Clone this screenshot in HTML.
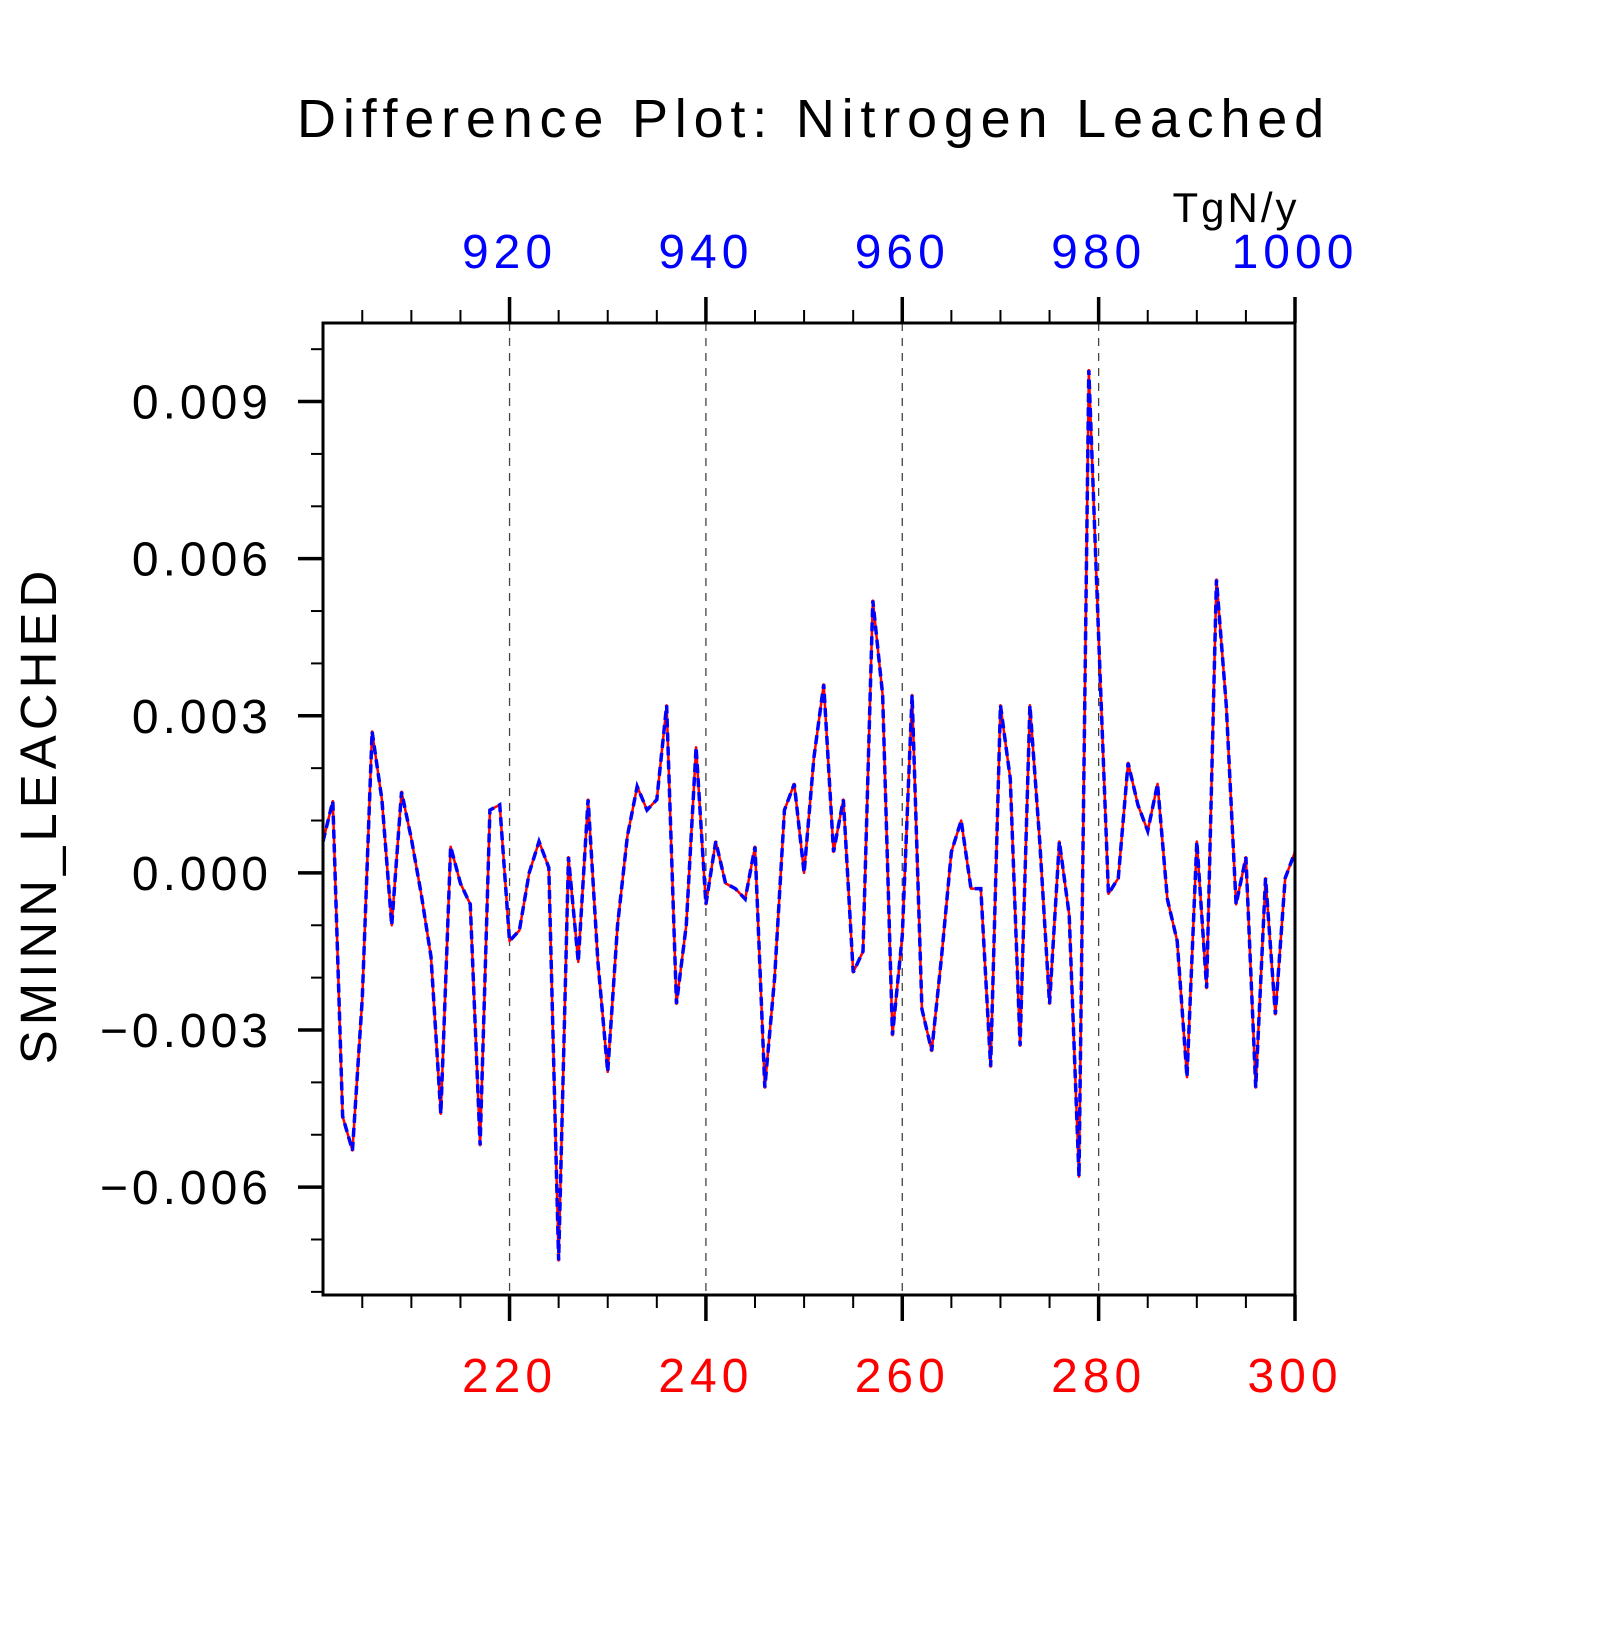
<!DOCTYPE html>
<html><head><meta charset="utf-8"><style>
html,body{margin:0;padding:0;background:#fff}
svg text{font-family:"Liberation Sans",sans-serif}
</style></head><body>
<svg width="1620" height="1620" viewBox="0 0 1620 1620" xmlns="http://www.w3.org/2000/svg">
<text x="814" y="137" font-size="54" text-anchor="middle" letter-spacing="6.8" fill="#000">Difference Plot: Nitrogen Leached</text>
<text x="1236" y="222" font-size="42" text-anchor="middle" letter-spacing="3" fill="#000">TgN/y</text>
<text transform="translate(56,815) rotate(-90)" font-size="51" text-anchor="middle" letter-spacing="5" fill="#000">SMINN_LEACHED</text>
<g id="grid"></g>
<g id="ticks"></g>
<g id="series"></g>
<rect x="323" y="323" width="972" height="972" fill="none" stroke="#000" stroke-width="3"/>
</svg>
<script>
const years = [];
for (let y = 201; y <= 300; y++) years.push(y);
const valuesA = [0.0006,0.00137,-0.00465,-0.0053,-0.0024,0.0027,0.0014,-0.001,0.00155,0.00065,
-0.0004,-0.0016,-0.0046,0.0005,-0.0002,-0.0006,-0.0052,0.0012,0.0013,-0.0013,
-0.0011,0.0,0.0006,0.0001,-0.0074,0.0003,-0.0017,0.0014,-0.0017,-0.0038,
-0.001,0.0007,0.00165,0.0012,0.0014,0.0032,-0.0025,-0.001,0.0024,-0.0006,
0.0006,-0.0002,-0.0003,-0.0005,0.0005,-0.0041,-0.002,0.0012,0.0017,0.0,
0.0022,0.0036,0.0004,0.0014,-0.0019,-0.0015,0.0052,0.0034,-0.0031,-0.0012,
0.0034,-0.0026,-0.0034,-0.0016,0.0004,0.001,-0.0003,-0.0003,-0.0037,0.0032,
0.0018,-0.0033,0.0032,0.0006,-0.0025,0.0006,-0.0008,-0.0058,0.0096,0.0045,
-0.0004,-0.0001,0.0021,0.0013,0.0008,0.0017,-0.0005,-0.0013,-0.0039,0.0006,
-0.0022,0.0056,0.0032,-0.0006,0.0003,-0.0041,-0.0001,-0.0027,-0.0001,0.0004];
const valuesB = valuesA.slice();
const bottomTicks = [220,240,260,280,300];
const topTicks = [920,940,960,980,1000];
const yTicks = [-0.006,-0.003,0.000,0.003,0.006,0.009];
const yTickLabels = ["\u22120.006","\u22120.003","0.000","0.003","0.006","0.009"];

const X0=323,X1=1295,Y0=323,Y1=1295, xmin=201,xmax=300, ymin=-0.00806, ymax=0.0105;
const sx = v => X0+(v-xmin)/(xmax-xmin)*(X1-X0);
const sy = v => Y1-(v-ymin)/(ymax-ymin)*(Y1-Y0);
const NS="http://www.w3.org/2000/svg";
function mk(tag, attrs, parent){const e=document.createElementNS(NS,tag);for(const k in attrs)e.setAttribute(k,attrs[k]);parent.appendChild(e);return e;}
const grid=document.getElementById('grid'), ticks=document.getElementById('ticks'), series=document.getElementById('series');
const svg=document.querySelector('svg');

bottomTicks.forEach(t=>{ if(t<300){const l=mk('line',{x1:sx(t),x2:sx(t),y1:Y0,y2:Y1,stroke:'#444','stroke-width':1.3,'stroke-dasharray':'8,7'},grid);

}});
for(let t=205;t<=300;t+=5){
  const major = t%20===0;
  const len = major?26:13;
  mk('line',{x1:sx(t),x2:sx(t),y1:Y1,y2:Y1+len,stroke:'#000','stroke-width':major?3.5:2},ticks);
  mk('line',{x1:sx(t),x2:sx(t),y1:Y0,y2:Y0-len,stroke:'#000','stroke-width':major?3.5:2},ticks);
}
for(let k=-8;k<=10;k++){
  const v=k*0.001; const major = k%3===0;
  mk('line',{x1:X0,x2:X0-(major?25:12),y1:sy(v),y2:sy(v),stroke:'#000','stroke-width':major?3.5:2},ticks);
}
bottomTicks.forEach(t=>{const e=mk('text',{x:sx(t),y:1392,'font-size':48,'text-anchor':'middle','letter-spacing':5,fill:'#ff0000'},svg);e.textContent=String(t);

});
topTicks.forEach((t,i)=>{const e=mk('text',{x:sx(bottomTicks[i]),y:268,'font-size':48,'text-anchor':'middle','letter-spacing':5,fill:'#0000ff'},svg);e.textContent=String(t);

});
yTicks.forEach((v,i)=>{const e=mk('text',{x:272,y:sy(v)+17,'font-size':48,'text-anchor':'end','letter-spacing':4,fill:'#000'},svg);e.textContent=yTickLabels[i];

});

const ptsA=years.map((y,i)=>sx(y)+','+sy(valuesA[i])).join(' ');
const ptsB=years.map((y,i)=>sx(y)+','+sy(valuesB[i])).join(' ');
const la=mk('polyline',{points:ptsA,fill:'none',stroke:'#ff0000','stroke-width':2.5,'stroke-linejoin':'round'},series);


const lb=mk('polyline',{points:ptsB,fill:'none',stroke:'#0000ff','stroke-width':3.5,'stroke-dasharray':'9,5'},series);


</script>
</body></html>
